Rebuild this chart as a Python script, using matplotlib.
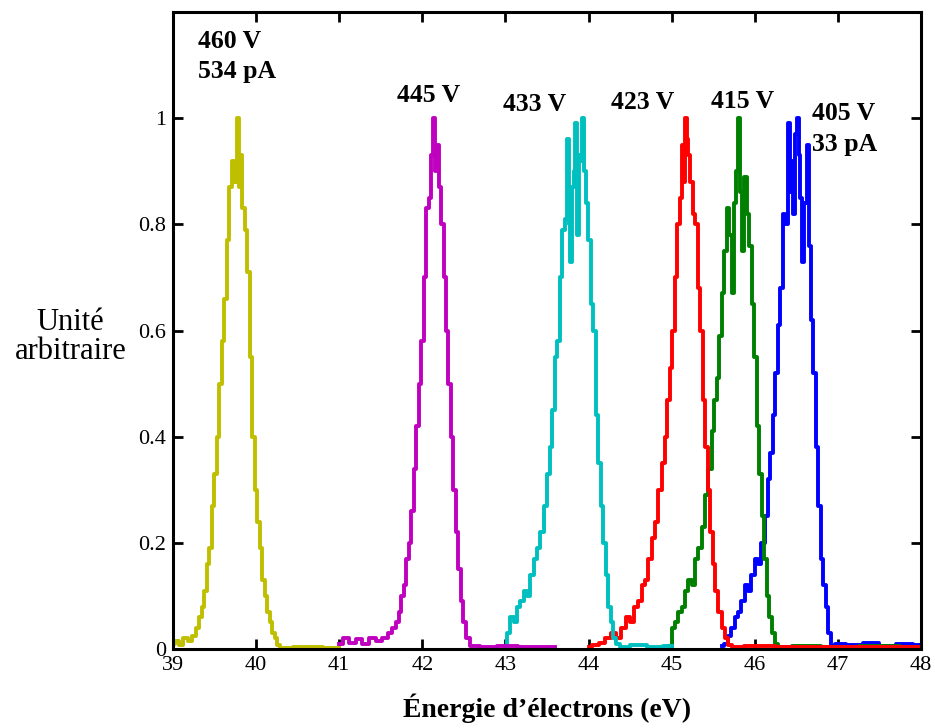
import matplotlib
matplotlib.use('Agg')
import matplotlib.pyplot as plt

plt.rcParams['font.family'] = ['Liberation Serif', 'DejaVu Serif']

# spectres (energie en eV, intensite normalisee)
x_405 = [45.60, 45.66, 45.70, 45.74, 45.78, 45.82, 45.86, 45.90, 45.94, 45.98,
         46.02, 46.06, 46.10, 46.14, 46.17, 46.20, 46.23, 46.26, 46.29, 46.32,
         46.35, 46.38, 46.41, 46.43, 46.45, 46.47, 46.50, 46.52, 46.54, 46.56,
         46.58, 46.61, 46.64, 46.66, 46.69, 46.72, 46.75, 46.78, 46.81, 46.84,
         46.87, 46.90, 46.94, 47.0, 47.2, 47.4, 47.6, 47.8, 48.0]
y_405 = [0.005, 0.01, 0.025, 0.04, 0.06, 0.07, 0.09, 0.12, 0.11, 0.14,
         0.17, 0.16, 0.2, 0.25, 0.32, 0.37, 0.44, 0.52, 0.61, 0.68,
         0.82, 0.8, 0.99, 0.86, 0.92, 0.82, 0.97, 1.0, 0.93, 0.85,
         0.73, 0.84, 0.95, 0.76, 0.62, 0.52, 0.38, 0.27, 0.17, 0.12,
         0.08, 0.03, 0.005, 0.01, 0.008, 0.012, 0.006, 0.01, 0.008]

x_415 = [44.98, 45.02, 45.06, 45.10, 45.14, 45.18, 45.22, 45.26, 45.30, 45.34,
         45.38, 45.42, 45.46, 45.50, 45.53, 45.56, 45.59, 45.62, 45.65, 45.68,
         45.71, 45.74, 45.77, 45.79, 45.81, 45.83, 45.86, 45.89, 45.92, 45.95,
         45.98, 46.01, 46.04, 46.07, 46.10, 46.13, 46.16, 46.19, 46.22, 46.26,
         46.30, 46.6, 47.0, 47.5, 48.0]
y_415 = [0.005, 0.04, 0.05, 0.07, 0.08, 0.11, 0.13, 0.12, 0.17, 0.19,
         0.23, 0.29, 0.34, 0.41, 0.47, 0.51, 0.59, 0.67, 0.75, 0.83,
         0.78, 0.67, 0.84, 0.9, 1.0, 0.86, 0.75, 0.89, 0.82, 0.76,
         0.65, 0.55, 0.42, 0.33, 0.25, 0.17, 0.1, 0.06, 0.03, 0.01,
         0.004, 0.006, 0.003, 0.005, 0.003]

x_423 = [44.00, 44.08, 44.16, 44.24, 44.30, 44.36, 44.42, 44.47, 44.52, 44.57,
         44.62, 44.66, 44.70, 44.74, 44.78, 44.82, 44.86, 44.90, 44.93, 44.96,
         44.99, 45.02, 45.05, 45.08, 45.11, 45.13, 45.15, 45.17, 45.19, 45.21,
         45.24, 45.27, 45.30, 45.33, 45.36, 45.39, 45.42, 45.45, 45.48, 45.51,
         45.54, 45.58, 45.62, 45.66, 45.70, 45.75, 46.0, 46.5, 47.0, 47.5, 48.0]
y_423 = [0.003, 0.008, 0.012, 0.02, 0.03, 0.02, 0.04, 0.06, 0.05, 0.08,
         0.09, 0.12, 0.13, 0.17, 0.21, 0.24, 0.3, 0.35, 0.4, 0.47,
         0.53, 0.6, 0.7, 0.8, 0.85, 0.95, 0.88, 1.0, 0.96, 0.93,
         0.88, 0.82, 0.8, 0.68, 0.6, 0.47, 0.38, 0.3, 0.22, 0.16,
         0.11, 0.07, 0.04, 0.02, 0.008, 0.003, 0.005, 0.003, 0.004, 0.003, 0.004]

x_433 = [43.00, 43.04, 43.08, 43.12, 43.16, 43.20, 43.24, 43.28, 43.32, 43.36,
         43.40, 43.44, 43.48, 43.52, 43.55, 43.58, 43.61, 43.64, 43.67, 43.70,
         43.73, 43.75, 43.77, 43.79, 43.81, 43.83, 43.85, 43.87, 43.89, 43.91,
         43.93, 43.95, 43.98, 44.01, 44.04, 44.07, 44.10, 44.13, 44.16, 44.19,
         44.22, 44.25, 44.28, 44.31, 44.35, 44.40, 44.6, 44.8, 45.0]
y_433 = [0.005, 0.03, 0.06, 0.05, 0.08, 0.09, 0.11, 0.1, 0.14, 0.17,
         0.19, 0.22, 0.27, 0.33, 0.38, 0.45, 0.55, 0.58, 0.7, 0.79,
         0.81, 0.96, 0.80, 0.73, 0.87, 0.90, 0.99, 0.78, 0.93, 0.92,
         1.0, 0.90, 0.84, 0.77, 0.65, 0.60, 0.44, 0.35, 0.27, 0.2,
         0.14, 0.08, 0.05, 0.02, 0.01, 0.003, 0.008, 0.004, 0.006]

x_445 = [41.00, 41.08, 41.16, 41.24, 41.32, 41.40, 41.48, 41.56, 41.62, 41.66,
         41.70, 41.73, 41.76, 41.79, 41.82, 41.85, 41.88, 41.91, 41.94, 41.97,
         42.00, 42.03, 42.06, 42.09, 42.12, 42.14, 42.16, 42.18, 42.21, 42.24,
         42.27, 42.30, 42.33, 42.36, 42.39, 42.42, 42.45, 42.48, 42.51, 42.55,
         42.60, 42.80, 43.0, 43.3, 43.6]
y_445 = [0.01, 0.02, 0.012, 0.018, 0.01, 0.02, 0.015, 0.02, 0.03, 0.04,
         0.05, 0.07, 0.1, 0.12, 0.17, 0.2, 0.26, 0.34, 0.42, 0.5,
         0.58, 0.70, 0.83, 0.85, 0.93, 1.0, 0.9, 0.95, 0.87, 0.80,
         0.70, 0.60, 0.50, 0.40, 0.30, 0.22, 0.15, 0.09, 0.05, 0.02,
         0.005, 0.003, 0.006, 0.004, 0.003]

x_460 = [39.00, 39.05, 39.10, 39.15, 39.20, 39.25, 39.30, 39.33, 39.36, 39.39,
         39.42, 39.45, 39.48, 39.51, 39.54, 39.57, 39.60, 39.63, 39.66, 39.69,
         39.72, 39.75, 39.78, 39.80, 39.82, 39.85, 39.88, 39.91, 39.94, 39.97,
         40.00, 40.03, 40.06, 40.09, 40.12, 40.15, 40.18, 40.21, 40.24, 40.27,
         40.30, 40.60, 41.00]
y_460 = [0.01, 0.015, 0.008, 0.02, 0.015, 0.025, 0.04, 0.06, 0.08, 0.11,
         0.16, 0.19, 0.27, 0.33, 0.40, 0.50, 0.58, 0.66, 0.77, 0.87,
         0.92, 0.88, 1.0, 0.87, 0.93, 0.83, 0.79, 0.71, 0.55, 0.40,
         0.30, 0.24, 0.19, 0.13, 0.10, 0.07, 0.05, 0.03, 0.02, 0.008,
         0.002, 0.003, 0.002]

series = [(x_405, y_405, 'b'), (x_415, y_415, 'g'), (x_423, y_423, 'r'),
          (x_433, y_433, 'c'), (x_445, y_445, 'm'), (x_460, y_460, 'y')]
colors = {'b': '#0000ff', 'g': '#008000', 'r': '#ff0000',
          'c': '#00bfbf', 'm': '#bf00bf', 'y': '#bfbf00'}

# etiquettes (texte, x, y)
labels = [('460 V', 39.30, 1.145), ('534 pA', 39.30, 1.087),
          ('445 V', 41.70, 1.043), ('433 V', 42.97, 1.025),
          ('423 V', 44.27, 1.030), ('415 V', 45.47, 1.032),
          ('405 V', 46.69, 1.009), ('33 pA', 46.69, 0.951)]

fig = plt.figure(figsize=(9.35, 7.28), dpi=100)
ax = fig.add_axes([0.185, 0.1085, 0.80, 0.875])

for xs, ys, c in series:
    ax.plot(xs, ys, color=colors[c], lw=2.8, drawstyle='steps-mid')

for txt, tx, ty in labels:
    ax.text(tx, ty, txt, fontsize=18.5, fontweight='bold', ha='left', va='center')

ax.set_xlim(39, 48)
ax.set_ylim(0, 1.2)
ax.set_xticks(range(39, 49))
ax.set_yticks([0, 0.2, 0.4, 0.6, 0.8, 1])
ax.set_yticklabels(['0', '0.2', '0.4', '0.6', '0.8', '1'])
ax.tick_params(direction='in', length=7, width=2, top=True, right=True,
               labelsize=16, pad=5)
for s in ax.spines.values():
    s.set_linewidth(2.2)

ax.set_xlabel('Énergie d’électrons (eV)', fontsize=20, fontweight='bold', labelpad=13)
ax.set_ylabel('Unité\narbitraire', fontsize=22, rotation=0, ha='center', va='center',
              linespacing=1.0)
ax.yaxis.set_label_coords(-0.137, 0.49)

fig.savefig('out.png', dpi=100)
